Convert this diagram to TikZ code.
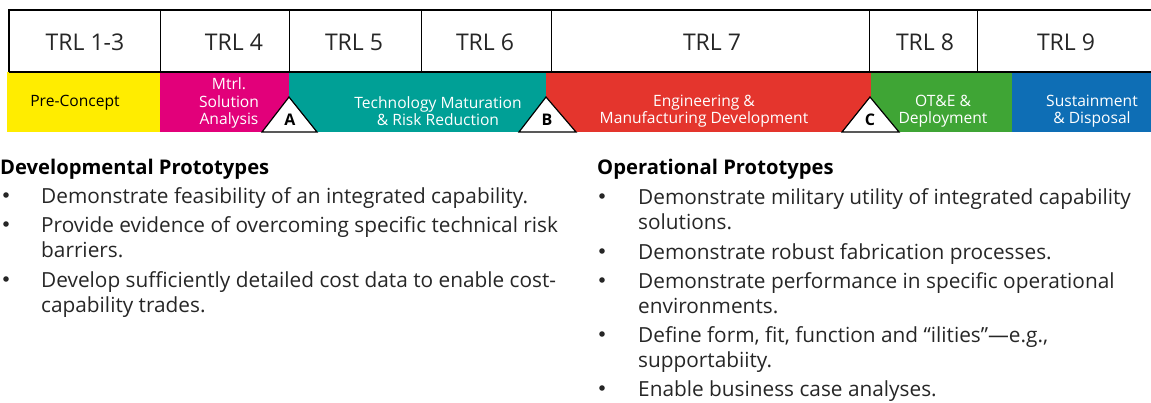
\documentclass[tikz,border=0pt]{standalone}
\usepackage{fontspec}
\setmainfont{Open Sans}
\usepackage{xcolor}
\definecolor{preyellow}{HTML}{FFED00}
\definecolor{msamagenta}{HTML}{E2007A}
\definecolor{tmrteal}{HTML}{00A096}
\definecolor{emdred}{HTML}{E4352D}
\definecolor{otegreen}{HTML}{3FA535}
\definecolor{susblue}{HTML}{0E6EB5}
\tikzset{
  trllabel/.style={font=\fontsize{23}{23}\selectfont, text=black!85},
  bandlabel/.style={font=\fontsize{15.6}{17.5}\selectfont, text=white, align=center, inner sep=0pt},
  gate/.style={fill=white, draw=black, line width=1.2pt, line join=miter},
  gatelabel/.style={font=\fontsize{16}{16}\selectfont\bfseries, inner sep=0pt},
  head/.style={font=\fontsize{20.2}{20}\selectfont\bfseries, anchor=west, inner sep=0pt},
  item/.style={font=\fontsize{20.8}{24.5}\selectfont, anchor=north west, align=left, inner sep=0pt, text=black!85},
  dot/.style={circle, fill=black!85, inner sep=0pt, minimum size=5.6pt}
}
\begin{document}
\begin{tikzpicture}[x=1pt, y=-1pt]
\useasboundingbox (0,0) rectangle (1151,403);
%%%%% Colour bands %%%%%
\fill[preyellow] (7,72) rectangle (160,132);
\fill[msamagenta] (160,72) rectangle (289,132);
\fill[tmrteal] (289,72) rectangle (546,132);
\fill[emdred] (546,72) rectangle (871,132);
\fill[otegreen] (871,72) rectangle (1012,132);
\fill[susblue] (1012,72) rectangle (1151,132);
%%%%% TRL row %%%%%
\draw[line width=1.2pt] (9,72)--(9,10)--(1151,10);
\draw[line width=1.2pt] (9,72)--(1151,72);
\foreach \xx in {160,289,421,551,869,977}{
\draw[line width=1pt] (\xx,10)--(\xx,72);
}
\foreach \cx/\lab [count=\i] in {85/TRL 1-3, 234/TRL 4, 354/TRL 5, 485/TRL 6, 712/TRL 7, 925/TRL 8, 1066/TRL 9}{
\node[trllabel] (trl\i) at (\cx,42) {\lab};
}
%%%%% Phases %%%%%
\node[bandlabel, text=black] (precon) at (75,103) {Pre-Concept};
\node[bandlabel] (msa) at (229,103) {Mtrl.\\Solution\\Analysis};
\node[bandlabel] (tmrr) at (438,111) {Technology Maturation\\\& Risk Reduction};
\node[bandlabel] (emd) at (704,111) {Engineering \&\\Manufacturing Development};
\node[bandlabel] (ote) at (943,111) {OT\&E \&\\Deployment};
\node[bandlabel] (sus) at (1092,111) {Sustainment\\\& Disposal};
%%%%% Milestones %%%%%
\draw[gate] (262,132)--(289,97)--(317,132)--cycle;
\node[gatelabel] (msA) at (290,120) {A};
\draw[gate] (519,132)--(546,97)--(576,132)--cycle;
\node[gatelabel] (msB) at (547,120) {B};
\draw[gate] (842,132)--(870,97)--(899,132)--cycle;
\node[gatelabel] (msC) at (870,120) {C};
%%%%% Prototypes %%%%%
\node[head] (devhead) at (0,169) {Developmental Prototypes};
\node[dot] (devb1) at (6,195) {};
\node[item] (dev1) at (41,187) {Demonstrate feasibility of an integrated capability.};
\node[dot] (devb2) at (6,224) {};
\node[item] (dev2) at (41,216.5) {Provide evidence of overcoming specific technical risk\\barriers.};
\node[dot] (devb3) at (6,279) {};
\node[item] (dev3) at (41,271.5) {Develop sufficiently detailed cost data to enable cost-\\capability trades.};
\node[head] (ophead) at (597,169) {Operational Prototypes};
\node[dot] (opb1) at (602,196) {};
\node[item] (op1) at (638,188.5) {Demonstrate military utility of integrated capability\\solutions.};
\node[dot] (opb2) at (602,251) {};
\node[item] (op2) at (638,243.5) {Demonstrate robust fabrication processes.};
\node[dot] (opb3) at (602,280) {};
\node[item] (op3) at (638,272.5) {Demonstrate performance in specific operational\\environments.};
\node[dot] (opb4) at (602,334) {};
\node[item] (op4) at (638,326.5) {Define form, fit, function and “ilities”—e.g.,\\supportabiity.};
\node[dot] (opb5) at (602,388) {};
\node[item] (op5) at (638,380.5) {Enable business case analyses.};
\end{tikzpicture}
\end{document}
